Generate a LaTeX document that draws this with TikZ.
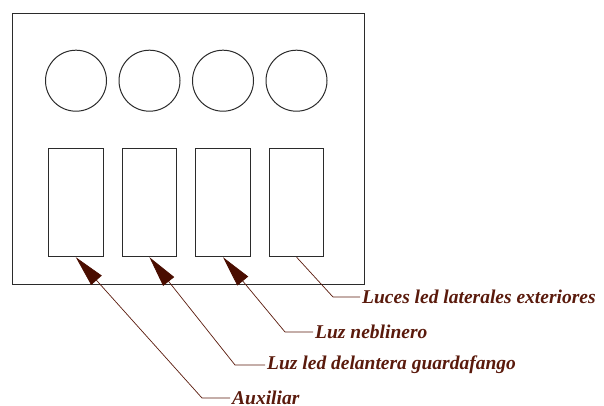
\documentclass[tikz,border=0pt]{standalone}
\usepackage{fontspec}
\setmainfont{Liberation Serif}
\usetikzlibrary{arrows.meta,positioning}
\definecolor{edge}{HTML}{2B2B2B}
\definecolor{wine}{HTML}{5A1A0C}
\definecolor{tipfill}{HTML}{4A0D00}

\begin{document}
\begin{tikzpicture}[
  x=1pt, y=-1pt,
  lamp/.style={draw=edge, line width=1pt, circle, minimum size=61pt,
    inner sep=0pt},
  slot/.style={draw=edge, line width=1pt, minimum width=54.5pt,
    minimum height=108.4pt, inner sep=0pt},
  tag/.style={font=\fontsize{19.5}{21}\selectfont\bfseries\itshape,
    text=wine, inner sep=2pt},
  callout/.style={draw=wine, line width=0.7pt},
  pointer/.style={callout,
    {Triangle[length=31pt, width=14pt, color=tipfill]}-},
]
  \useasboundingbox (0,0) rectangle (604,405);

  % panel with the four round lamps and the four slots below them
  \node[draw=edge, line width=1pt, minimum width=352pt,
    minimum height=271pt, inner sep=0pt] (panel) at (188,148.5) {};
  \foreach \i in {1,...,4} {
    \node[lamp] (ring\i) at ({76+73.5*(\i-1)},80.7) {};
    \node[slot] (slot\i) at ({75.8+73.6*(\i-1)},202.5) {};
  }

  % callout knees and labels
  \coordinate (kLuces) at (333,297);
  \coordinate (kNiebla) at (285,332);
  \coordinate (kGuarda) at (235,365);
  \coordinate (kAux) at (202,398);
  \node[tag, right=27pt of kLuces] (tLuces) {Luces led laterales exteriores};
  \node[tag, right=28pt of kNiebla] (tNiebla) {Luz neblinero};
  \node[tag, right=30pt of kGuarda] (tGuarda) {Luz led delantera guardafango};
  \node[tag, right=28pt of kAux] (tAux) {Auxiliar};

  \draw[callout] (slot4.south) -- (kLuces) -- (tLuces.west);
  \draw[pointer] (slot3.south) -- (kNiebla) -- (tNiebla.west);
  \draw[pointer] (slot2.south) -- (kGuarda) -- (tGuarda.west);
  \draw[pointer] (slot1.south) -- (kAux) -- (tAux.west);
\end{tikzpicture}
\end{document}
